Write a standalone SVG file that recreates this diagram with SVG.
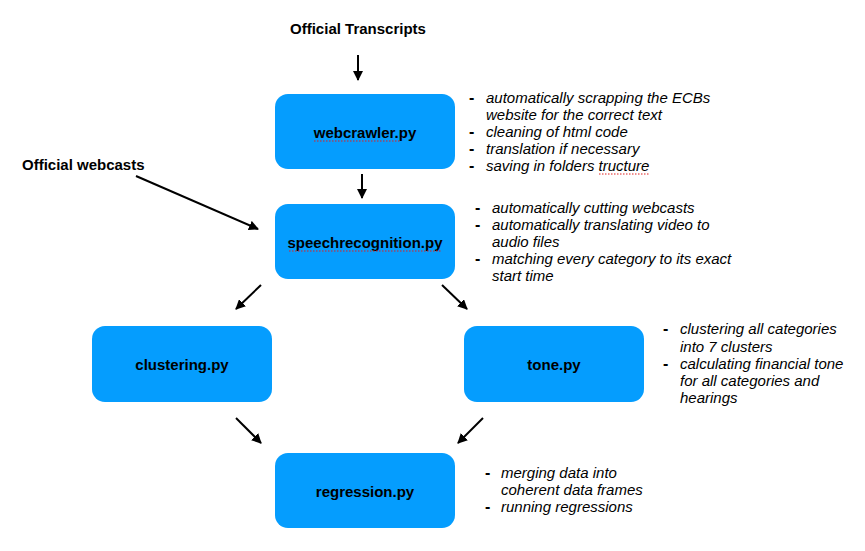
<svg xmlns="http://www.w3.org/2000/svg" width="865" height="551" viewBox="0 0 865 551">
<defs>
<marker id="ah" viewBox="0 0 10 10" refX="9" refY="5" markerWidth="5" markerHeight="5" orient="auto" markerUnits="strokeWidth">
<path d="M0,0 L10,5 L0,10 z" fill="#000"/>
</marker>
</defs>
<style>
.box{fill:#059DFE;}
.lbl{font-family:"Liberation Sans",Arial,sans-serif;font-weight:bold;font-size:15px;fill:#000;text-anchor:middle;dominant-baseline:central;}
.ttl{font-family:"Liberation Sans",Arial,sans-serif;font-weight:bold;font-size:15px;fill:#000;}
.b{font-family:"Liberation Sans",Arial,sans-serif;font-style:italic;font-size:15px;fill:#000;}
.d{font-family:"Liberation Sans",Arial,sans-serif;font-weight:bold;font-size:16px;fill:#000;}
.sp{stroke:#e02020;stroke-width:1.2;stroke-dasharray:1.5 1.5;fill:none;}
.c{stroke:#000;stroke-width:2;fill:none;marker-end:url(#ah);}
</style>
<rect width="865" height="551" fill="#fff"/>
<text class="ttl" x="358" y="34" text-anchor="middle">Official Transcripts</text>
<text class="ttl" x="22" y="170">Official webcasts</text>
<g id="connectors">
<line class="c" x1="358" y1="55" x2="358" y2="80"/>
<line class="c" x1="362" y1="174" x2="362" y2="198"/>
<line class="c" x1="136" y1="176" x2="258" y2="229"/>
<line class="c" x1="261" y1="285" x2="236" y2="309"/>
<line class="c" x1="442" y1="285" x2="467" y2="309"/>
<line class="c" x1="236" y1="418" x2="261" y2="443"/>
<line class="c" x1="483" y1="418" x2="458" y2="443"/>
</g>
<g id="webcrawler">
<rect class="box" x="275" y="94" width="180" height="75" rx="13"/>
<text class="lbl" x="365" y="132">webcrawler.py</text>
<line class="sp" x1="314" y1="141" x2="400" y2="141"/>
<text class="d" x="469" y="103">-</text>
<text class="b" x="486" y="103">automatically scrapping the ECBs</text>
<text class="b" x="486" y="120">website for the correct text</text>
<text class="d" x="469" y="137">-</text>
<text class="b" x="486" y="137">cleaning of html code</text>
<text class="d" x="469" y="154">-</text>
<text class="b" x="486" y="154">translation if necessary</text>
<text class="d" x="469" y="171">-</text>
<text class="b" x="486" y="171">saving in folders tructure</text>
<line class="sp" x1="599" y1="174" x2="650" y2="174"/>
</g>
<g id="speechrecognition">
<rect class="box" x="275" y="204" width="180" height="75" rx="13"/>
<text class="lbl" x="365" y="242">speechrecognition.py</text>
<line class="sp" x1="289" y1="251" x2="442" y2="251"/>
<text class="d" x="475" y="213">-</text>
<text class="b" x="492" y="213">automatically cutting webcasts</text>
<text class="d" x="475" y="230">-</text>
<text class="b" x="492" y="230">automatically translating video to</text>
<text class="b" x="492" y="247">audio files</text>
<text class="d" x="475" y="264">-</text>
<text class="b" x="492" y="264">matching every category to its exact</text>
<text class="b" x="492" y="281">start time</text>
</g>
<g id="clustering">
<rect class="box" x="92" y="326" width="180" height="76" rx="13"/>
<text class="lbl" x="182" y="364">clustering.py</text>
</g>
<g id="tone">
<rect class="box" x="464" y="326" width="180" height="76" rx="13"/>
<text class="lbl" x="554" y="364">tone.py</text>
<text class="d" x="663" y="334">-</text>
<text class="b" x="680" y="334">clustering all categories</text>
<text class="b" x="680" y="352">into 7 clusters</text>
<text class="d" x="663" y="369">-</text>
<text class="b" x="680" y="369">calculating financial tone</text>
<text class="b" x="680" y="386">for all categories and</text>
<text class="b" x="680" y="403">hearings</text>
</g>
<g id="regression">
<rect class="box" x="275" y="453" width="180" height="75" rx="13"/>
<text class="lbl" x="365" y="491">regression.py</text>
<text class="d" x="485" y="478">-</text>
<text class="b" x="501" y="478">merging data into</text>
<text class="b" x="501" y="495">coherent data frames</text>
<text class="d" x="485" y="512">-</text>
<text class="b" x="501" y="512">running regressions</text>
</g>
</svg>
